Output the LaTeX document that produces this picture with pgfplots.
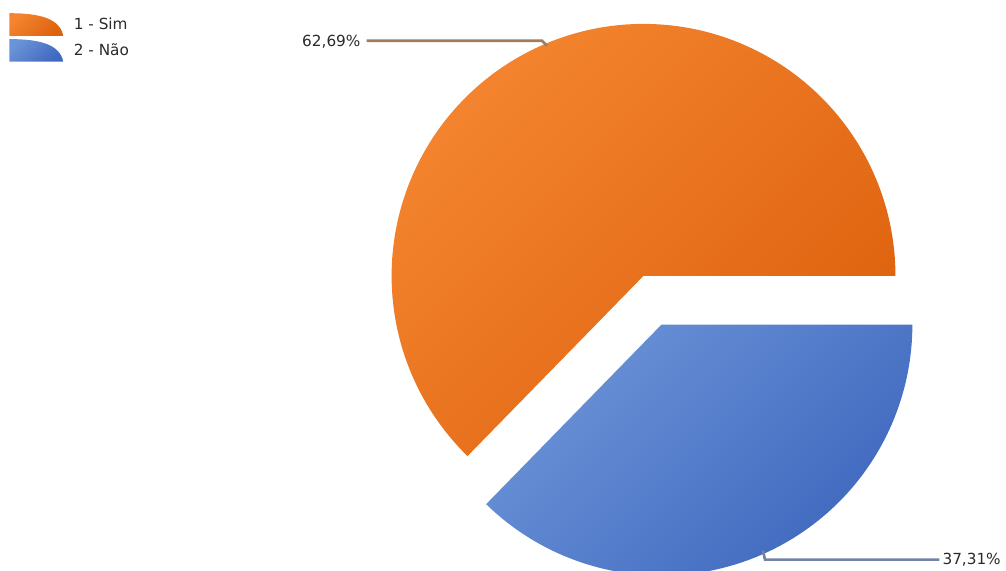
\documentclass[border=0pt]{standalone}
\usepackage{pgfplots}
\usepackage{pgfplotstable}
\pgfplotsset{compat=1.18}
\usepackage{fontspec}
\setmainfont{DejaVu Sans}
\definecolor{orA}{HTML}{F4842F}
\definecolor{orB}{HTML}{DE620E}
\definecolor{blA}{HTML}{6B93D7}
\definecolor{blB}{HTML}{3F68BF}
\definecolor{leadO}{HTML}{A27C5E}
\definecolor{leadB}{HTML}{7282A8}
\definecolor{txt}{HTML}{2A2A2A}
\pgfplotstableread{
label value
Sim 62.69
Nao 37.31
}\piedata
\begin{document}
\pgfplotstablegetelem{0}{value}\of\piedata
\pgfmathsetmacro\angA{3.6*\pgfplotsretval}
\begin{tikzpicture}
\begin{axis}[
  scale only axis, width=754.5pt, height=429.75pt,
  xmin=0, xmax=1006, ymin=0, ymax=573,
  hide axis, clip mode=individual,
  legend image code/.code={\path[#1] (0pt,-8.5pt) -- (0pt,8.5pt) .. controls (24pt,8.5pt) and (38pt,4pt) .. (40.5pt,-8.5pt) -- cycle;},
  legend style={at={(axis cs:5,560)}, anchor=north west, draw=none, fill=none,
    inner sep=0pt, row sep=2.5pt, font=\fontsize{11.5}{13}\selectfont, text=txt,
    nodes={inner sep=1.5pt}},
  legend cell align=left,
]
\addplot[draw=none, top color=orA, bottom color=orB, shading angle=45,
  domain=0:\angA, samples=150, variable=\t]
  ({642+253*cos(t)}, {296+253*sin(t)}) -- (axis cs:642,296) -- cycle;
\addlegendentry{\hspace{6.5pt}1 - Sim}
\addplot[draw=none, top color=blA, bottom color=blB, shading angle=45,
  domain=\angA:360, samples=100, variable=\t]
  ({660+252*cos(t)}, {247+252*sin(t)}) -- (axis cs:660,247) -- cycle;
\addlegendentry{\hspace{6.5pt}2 - Não}
\addplot[forget plot, leadO, line width=2pt] coordinates {(364,532) (540,532) (545,527)};
\addplot[forget plot, leadB, line width=2pt] coordinates {(762,20) (764,11) (939,11)};
\node[anchor=east, inner sep=0pt, text=txt, font=\fontsize{11.5}{13}\selectfont] at (axis cs:358,531) {62,69\%};
\node[anchor=west, inner sep=0pt, text=txt, font=\fontsize{11.5}{13}\selectfont] at (axis cs:942,11) {37,31\%};
\end{axis}
\pgfresetboundingbox
\useasboundingbox (current axis.south west) rectangle (current axis.north east);
\end{tikzpicture}
\end{document}
